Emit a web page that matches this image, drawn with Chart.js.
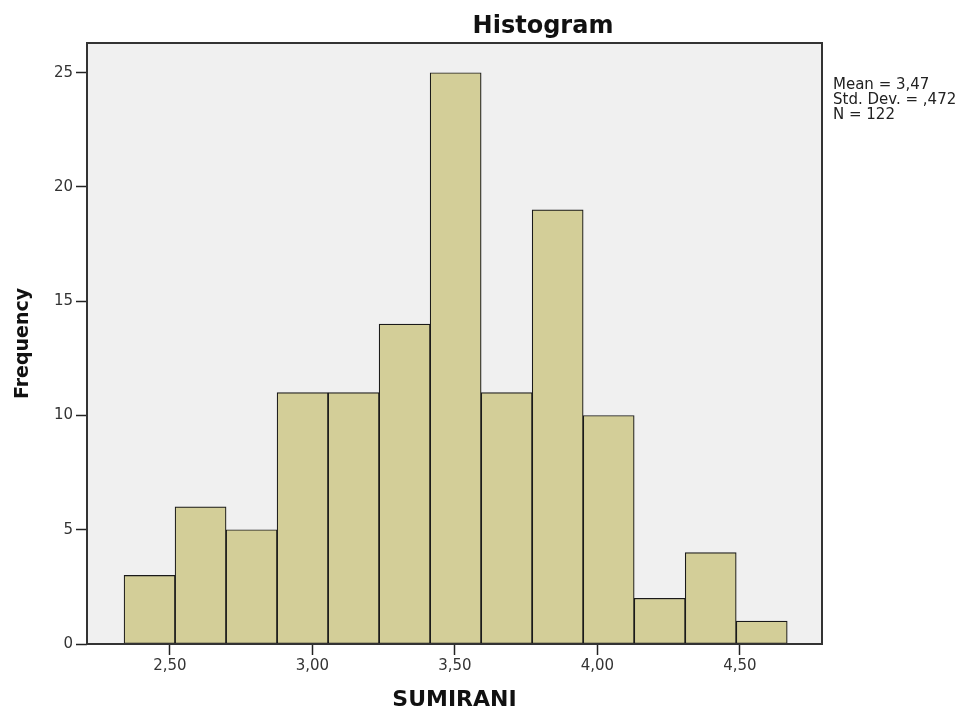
<!DOCTYPE html>
<html>
<head>
<meta charset="utf-8">
<script src="https://cdn.jsdelivr.net/npm/chart.js@4.4.1/dist/chart.umd.min.js"></script>
<style>
  html, body { margin: 0; padding: 0; background: #fff; }
  #wrap { width: 974px; height: 709px; position: relative; }
</style>
</head>
<body>
<div id="wrap"><canvas id="histChart"></canvas></div>
<script>
// Histogram - SUMIRANI
const counts = [3, 6, 5, 11, 11, 14, 25, 11, 19, 10, 2, 4, 1];
const binStart = 2.339;
const binWidth = 0.179;
const xTicks = [2.5, 3.0, 3.5, 4.0, 4.5];
const yTicks = [0, 5, 10, 15, 20, 25];
const statsLines = ['Mean = 3,47', 'Std. Dev. = ,472', 'N = 122'];

const bars = counts.map((c, i) => ({x: binStart + (i + 0.5) * binWidth, y: c}));

Chart.defaults.font.family = '"DejaVu Sans", sans-serif';

// plot background, frame, title and stats box
const spssFrame = {
    id: 'spssFrame',
    beforeDraw(chart) {
        const {ctx, chartArea: a} = chart;
        ctx.save();
        ctx.fillStyle = '#f0f0f0';
        ctx.fillRect(a.left, a.top, a.right - a.left, a.bottom - a.top);
        ctx.restore();
    },
    afterDraw(chart) {
        const {ctx, chartArea: a} = chart;
        ctx.save();
        ctx.strokeStyle = '#333';
        ctx.lineWidth = 2;
        ctx.strokeRect(a.left, a.top, a.right - a.left, a.bottom - a.top);

        ctx.fillStyle = '#111';
        ctx.font = 'bold 24px "DejaVu Sans"';
        ctx.textAlign = 'center';
        ctx.textBaseline = 'alphabetic';
        ctx.fillText('Histogram', 543, 33);

        ctx.font = '15px "DejaVu Sans"';
        ctx.fillStyle = '#222';
        ctx.textAlign = 'left';
        statsLines.forEach((t, i) => ctx.fillText(t, 833, 89 + i * 15));
        ctx.restore();
    }
};

const ctx = document.getElementById('histChart').getContext('2d');
const histChart = new Chart(ctx, {
    type: 'bar',
    data: {
        datasets: [{
            data: bars,
            backgroundColor: '#d3ce98',
            borderColor: '#1a1a1a',
            borderWidth: 1.2,
            borderSkipped: false,
            barPercentage: 1,
            categoryPercentage: 1
        }]
    },
    options: {
        responsive: true,
        maintainAspectRatio: false,
        animation: false,
        layout: {padding: {top: 43, right: 152, bottom: 0, left: 0}},
        plugins: {
            legend: {display: false},
            title: {display: false},
            tooltip: {enabled: false}
        },
        scales: {
            x: {
                type: 'linear',
                min: 2.209,
                max: 4.788,
                offset: false,
                afterBuildTicks: s => { s.ticks = xTicks.map(v => ({value: v})); },
                afterFit: s => { s.height = 65; },
                grid: {drawOnChartArea: false, offset: false, tickLength: 11, tickColor: '#222', tickWidth: 1.5},
                border: {display: false},
                ticks: {
                    padding: 2,
                    color: '#333',
                    font: {size: 15},
                    maxRotation: 0,
                    callback: v => v.toFixed(2).replace('.', ',')
                },
                title: {
                    display: true,
                    text: 'SUMIRANI',
                    color: '#111',
                    font: {size: 22, weight: 'bold', lineHeight: 0.8},
                    padding: {top: 0, bottom: 0}
                }
            },
            y: {
                min: 0,
                max: 26.3,
                afterBuildTicks: s => { s.ticks = yTicks.map(v => ({value: v})); },
                afterFit: s => { s.width = 87; },
                grid: {drawOnChartArea: false, tickLength: 11, tickColor: '#222', tickWidth: 1.5},
                border: {display: false},
                ticks: {padding: 3, color: '#333', font: {size: 15}},
                title: {
                    display: true,
                    text: 'Frequency',
                    color: '#111',
                    font: {size: 19, weight: 'bold'},
                    padding: {top: 12, bottom: 0}
                }
            }
        }
    },
    plugins: [spssFrame]
});
</script>
</body>
</html>
